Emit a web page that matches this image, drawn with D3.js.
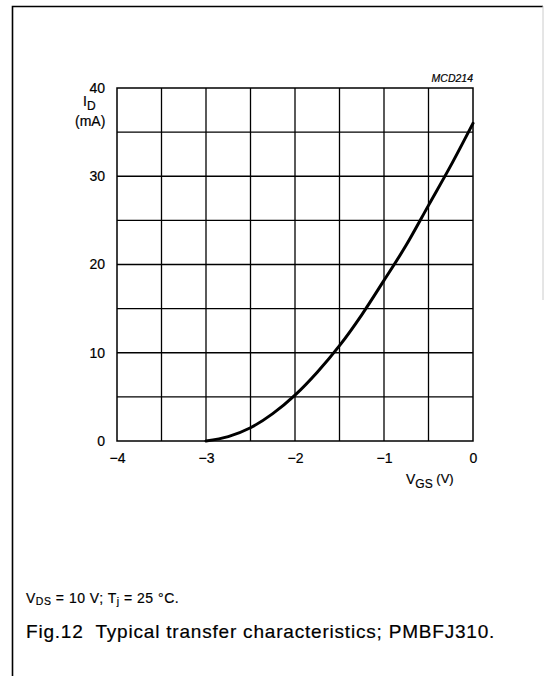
<!DOCTYPE html>
<html>
<head>
<meta charset="utf-8">
<script src="https://cdn.jsdelivr.net/npm/d3@7"></script>
<style>
  body { margin: 0; background: #fff; }
  text { font-family: "Liberation Sans", Arial, sans-serif; fill: #000; stroke: #000; stroke-width: 0.2px; }
</style>
</head>
<body>
<svg id="chart" width="544" height="676"></svg>
<script>
// transfer curve
const vgs = [-3, -2.75, -2.5, -2.25, -2, -1.75, -1.5, -1.25, -1, -0.75, -0.5, -0.25, 0];
const idmA = [0, 0.5, 1.5, 3.1, 5.2, 7.8, 10.8, 14.3, 18.2, 22.2, 26.7, 31.2, 36];
const xTicks = [-4, -3, -2, -1, 0];
const yTicks = [0, 10, 20, 30, 40];
const xGrid = [-3.5, -3, -2.5, -2, -1.5, -1, -0.5];
const yGrid = [5, 10, 15, 20, 25, 30, 35];

const svg = d3.select('#chart');

const pLeft = 117, pRight = 473, pTop = 88, pBottom = 441;
const x = d3.scaleLinear().domain([-4, 0]).range([pLeft, pRight]);
const y = d3.scaleLinear().domain([0, 40]).range([pBottom, pTop]);

// frame
svg.append('path')
  .attr('d', `M12.5,676 V6.5 H543`)
  .attr('fill', 'none')
  .attr('stroke', '#000')
  .attr('stroke-width', 1.6);
svg.append('line')
  .attr('x1', 543).attr('x2', 543).attr('y1', 6).attr('y2', 300)
  .attr('stroke', '#ccc').attr('stroke-width', 1);

const g = svg.append('g');

// grid
g.selectAll('.vgrid')
  .data(xGrid)
  .join('line')
  .attr('class', 'vgrid')
  .attr('x1', (d) => x(d)).attr('x2', (d) => x(d))
  .attr('y1', pTop).attr('y2', pBottom)
  .attr('stroke', '#000').attr('stroke-width', 1.3);

g.selectAll('.hgrid')
  .data(yGrid)
  .join('line')
  .attr('class', 'hgrid')
  .attr('x1', pLeft).attr('x2', pRight)
  .attr('y1', (d) => y(d)).attr('y2', (d) => y(d))
  .attr('stroke', '#000').attr('stroke-width', 1.3);

g.append('rect')
  .attr('x', pLeft).attr('y', pTop)
  .attr('width', pRight - pLeft).attr('height', pBottom - pTop)
  .attr('fill', 'none').attr('stroke', '#000').attr('stroke-width', 1.5);

// axes labels
const xAxis = d3.axisBottom(x).tickValues(xTicks).tickSize(0).tickPadding(12)
  .tickFormat((d) => (d < 0 ? '\u2212' + Math.abs(d) : d));
const xa = g.append('g').attr('transform', `translate(0,${pBottom})`).call(xAxis);
xa.select('.domain').remove();
xa.selectAll('text')
  .style('font-size', '14px')
  .style('font-family', '"Liberation Sans", Arial, sans-serif')
  .attr('fill', '#000');

const yAxis = d3.axisLeft(y).tickValues(yTicks).tickSize(0).tickPadding(12);
const ya = g.append('g').attr('transform', `translate(${pLeft},0)`).call(yAxis);
ya.select('.domain').remove();
ya.selectAll('text')
  .style('font-size', '14px')
  .style('font-family', '"Liberation Sans", Arial, sans-serif')
  .attr('fill', '#000');

// curve
const pts = vgs.map((v, i) => [v, idmA[i]]);
g.append('path')
  .datum(pts)
  .attr('fill', 'none')
  .attr('stroke', '#000')
  .attr('stroke-width', 3)
  .attr('stroke-linecap', 'round')
  .attr('d', d3.line()
    .x((d) => x(d[0]))
    .y((d) => y(d[1]))
    .curve(d3.curveMonotoneX));

// y label
const yl = svg.append('text').attr('x', 83).attr('y', 106).style('font-size', '14px');
yl.append('tspan').text('I');
yl.append('tspan').attr('dy', 4).style('font-size', '12px').text('D');
svg.append('text').attr('x', 75).attr('y', 126).style('font-size', '14px').text('(mA)');

// x label
const xl = svg.append('text').attr('x', 406).attr('y', 484).style('font-size', '14px');
xl.append('tspan').text('V');
xl.append('tspan').attr('dy', 4).style('font-size', '12px').text('GS');
xl.append('tspan').attr('dy', -5).style('font-size', '13px').text(' (V)');

// figure code
svg.append('text').attr('x', 473).attr('y', 82)
  .attr('text-anchor', 'end')
  .style('font-size', '10.5px')
  .style('font-style', 'italic')
  .text('MCD214');

// conditions
const cond = svg.append('text').attr('x', 26).attr('y', 603)
  .style('font-size', '14px').style('letter-spacing', '0.5px');
cond.append('tspan').text('V');
cond.append('tspan').attr('dy', 2).style('font-size', '10.5px').text('DS');
cond.append('tspan').attr('dy', -2).text(' = 10 V; T');
cond.append('tspan').attr('dy', 2).style('font-size', '10.5px').text('j');
cond.append('tspan').attr('dy', -2).text(' = 25 \u00B0C.');

// caption
svg.append('text').attr('x', 26).attr('y', 638)
  .style('font-size', '19px')
  .style('letter-spacing', '0.8px')
  .attr('xml:space', 'preserve')
  .style('white-space', 'pre')
  .text('Fig.12  Typical transfer characteristics; PMBFJ310.');
</script>
</body>
</html>
